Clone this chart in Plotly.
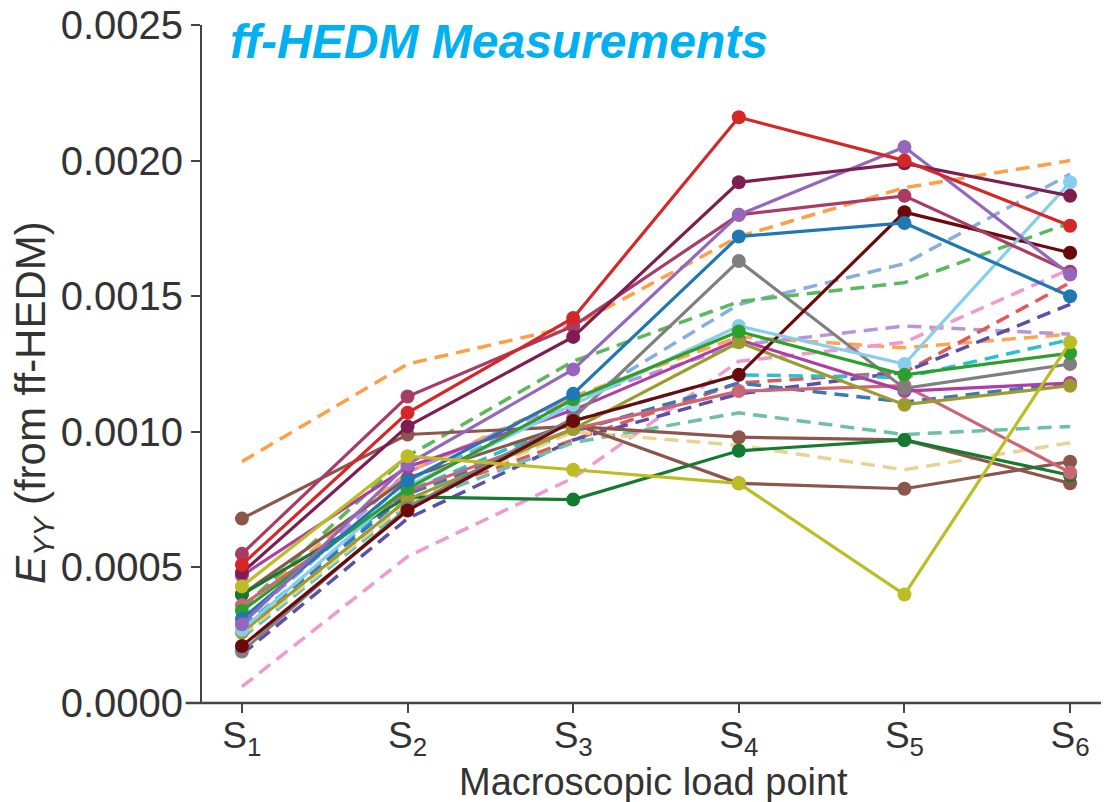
import plotly.graph_objects as go

load_points = ["S<sub>1</sub>", "S<sub>2</sub>", "S<sub>3</sub>", "S<sub>4</sub>", "S<sub>5</sub>", "S<sub>6</sub>"]
x_idx = [0, 1, 2, 3, 4, 5]

# dashed series (no markers)
orange_a = [0.00089, 0.00125, 0.00139, 0.00172, 0.00190, 0.00200]
orange_b = [0.00035, 0.00085, 0.00113, 0.00135, 0.00131, 0.00136]
lightblue_d = [0.00030, 0.00082, 0.00110, 0.00147, 0.00162, 0.00195]
green_d = [0.00035, 0.00091, 0.00126, 0.00148, 0.00155, 0.00177]
lavender_d = [0.00030, 0.00085, 0.00112, 0.00132, 0.00139, 0.00136]
pink_d = [0.00006, 0.00054, 0.00083, 0.00126, 0.00133, 0.00160]
red_d = [0.00025, 0.00075, 0.00097, 0.00118, 0.00122, 0.00155]
indigo_d = [0.00018, 0.00068, 0.00097, 0.00114, 0.00122, 0.00147]
cyan_d = [0.00028, 0.00078, 0.00104, 0.00121, 0.00120, 0.00134]
steel_d = [0.00027, 0.00077, 0.00100, 0.00118, 0.00111, 0.00118]
teal_d = [0.00024, 0.00073, 0.00096, 0.00107, 0.00099, 0.00102]
khaki_d = [0.00025, 0.00074, 0.00100, 0.00095, 0.00086, 0.00096]

# solid series (with markers)
red = [0.00051, 0.00107, 0.00142, 0.00216, 0.00200, 0.00176]
plum = [0.00048, 0.00102, 0.00135, 0.00192, 0.00199, 0.00187]
rose = [0.00055, 0.00113, 0.00139, 0.00180, 0.00187, 0.00159]
purple = [0.00029, 0.00088, 0.00123, 0.00180, 0.00205, 0.00158]
blue = [0.00031, 0.00082, 0.00114, 0.00172, 0.00177, 0.00150]
gray = [0.00019, 0.00072, 0.00105, 0.00163, 0.00116, 0.00125]
maroon = [0.00021, 0.00071, 0.00104, 0.00121, 0.00181, 0.00166]
skyblue = [0.00027, 0.00080, 0.00110, 0.00139, 0.00125, 0.00192]
green = [0.00034, 0.00079, 0.00112, 0.00137, 0.00121, 0.00129]
darkgreen = [0.00040, 0.00076, 0.00075, 0.00093, 0.00097, 0.00084]
yellow = [0.00043, 0.00091, 0.00086, 0.00081, 0.00040, 0.00133]
brown_a = [0.00068, 0.00099, 0.00102, 0.00098, 0.00097, 0.00081]
brown_b = [0.00040, 0.00083, 0.00103, 0.00081, 0.00079, 0.00089]
olive = [0.00026, 0.00075, 0.00101, 0.00133, 0.00110, 0.00117]
magenta = [0.00047, 0.00087, 0.00108, 0.00134, 0.00115, 0.00118]
pinkred = [0.00036, 0.00078, 0.00101, 0.00115, 0.00117, 0.00085]

dashed = [
    (orange_a, "#ff9f45"), (orange_b, "#ffa552"), (lightblue_d, "#86aee0"),
    (green_d, "#5cb85c"), (lavender_d, "#b994d9"), (pink_d, "#ee99cf"),
    (red_d, "#e05a5a"), (indigo_d, "#5b4fae"), (cyan_d, "#2bbfd0"),
    (steel_d, "#3b78b8"), (teal_d, "#6cc0a8"), (khaki_d, "#e8d394"),
]
solid = [
    (brown_b, "#8c564b"), (brown_a, "#8c564b"), (darkgreen, "#137a2f"),
    (pinkred, "#cc6677"), (magenta, "#b03ca5"), (olive, "#9c9c2e"),
    (gray, "#7f7f7f"), (maroon, "#6b0a0a"), (skyblue, "#87ceeb"),
    (green, "#2ca02c"), (blue, "#1f77b4"), (rose, "#a83c64"),
    (purple, "#9467bd"), (plum, "#7e1d52"), (red, "#d62728"),
    (yellow, "#bcbd22"),
]

fig = go.Figure()
for vals, col in dashed:
    fig.add_trace(go.Scatter(x=x_idx, y=vals, mode="lines",
                             line=dict(color=col, width=3.5, dash="14px,8px"),
                             showlegend=False, hoverinfo="skip"))
for vals, col in solid:
    fig.add_trace(go.Scatter(x=x_idx, y=vals, mode="lines+markers",
                             line=dict(color=col, width=3.2),
                             marker=dict(color=col, size=14),
                             showlegend=False, hoverinfo="skip"))

font_main = "Liberation Sans, Arial, sans-serif"
plot_h = 678.0
plot_w = 907.0
fig.update_layout(
    width=1101, height=794,
    margin=dict(l=194, r=0, t=17, b=99, autoexpand=False),
    paper_bgcolor="white", plot_bgcolor="white",
    font=dict(family=font_main, color="#222222", size=36),
    xaxis=dict(
        range=[-0.241, 5.235], tickmode="array", tickvals=x_idx, ticktext=load_points,
        showline=False, ticks="outside", ticklen=9, tickwidth=2, tickcolor="#444444",
        showgrid=False, zeroline=False, ticklabelstandoff=-9, automargin=False,
        tickfont=dict(size=37, family=font_main, color="#333333"),
    ),
    yaxis=dict(
        range=[0, 0.0025], dtick=0.0005, tick0=0, tickformat=".4f",
        showline=True, linecolor="#444444", linewidth=2,
        ticks="outside", ticklen=9, tickwidth=2, tickcolor="#444444",
        showgrid=False, zeroline=False, ticklabeloverflow="allow", automargin=False,
        tickfont=dict(size=40, family=font_main, color="#333333"),
    ),
    shapes=[dict(type="line", xref="paper", yref="paper", x0=-0.018, x1=1.0, y0=0, y1=0,
                 line=dict(color="#444444", width=2.5), layer="above")],
    annotations=[
        dict(text="<b><i>ff-HEDM Measurements</i></b>", xref="paper", yref="paper",
             x=26 / plot_w, y=1 - 16 / plot_h, xanchor="left", yanchor="middle", showarrow=False,
             font=dict(size=48, color="#00b0f0", family=font_main)),
        dict(text="Macroscopic load point", xref="paper", yref="paper",
             x=(653 - 202) / plot_w, y=-79 / plot_h, xanchor="center", yanchor="middle",
             showarrow=False, font=dict(size=38, color="#333333", family=font_main)),
        dict(text="<i>E</i><sub><i>YY</i></sub> (from ff-HEDM)", xref="paper", yref="paper",
             x=(33 - 202) / plot_w, y=1 - (403 - 25) / plot_h, xanchor="center", yanchor="middle",
             textangle=-90, showarrow=False,
             font=dict(size=42, color="#333333", family=font_main)),
    ],
)

fig.write_html("out.html")
